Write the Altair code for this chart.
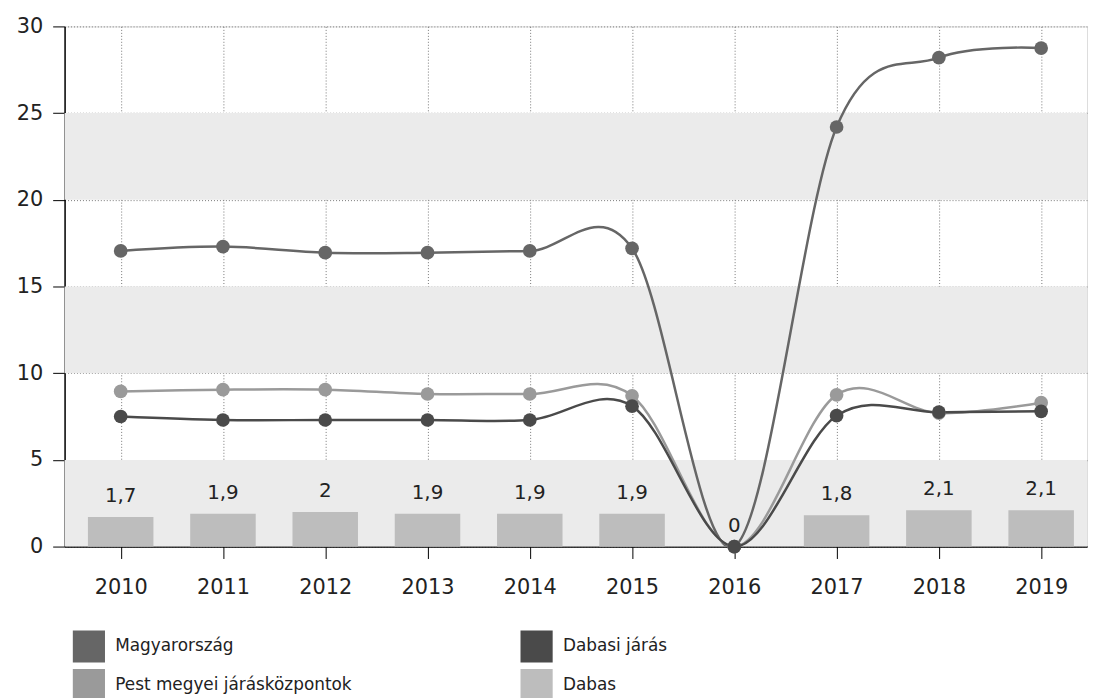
import altair as alt
import pandas as pd

years = [2010, 2011, 2012, 2013, 2014, 2015, 2016, 2017, 2018, 2019]
magyarorszag = [17.05, 17.3, 16.95, 16.95, 17.05, 17.2, 0, 24.2, 28.2, 28.75]
pest_megyei = [8.95, 9.05, 9.05, 8.8, 8.8, 8.7, 0, 8.75, 7.7, 8.3]
dabasi_jaras = [7.5, 7.3, 7.3, 7.3, 7.3, 8.1, 0, 7.55, 7.75, 7.8]
dabas = [1.7, 1.9, 2, 1.9, 1.9, 1.9, 0, 1.8, 2.1, 2.1]

series_names = ["Magyarország", "Pest megyei járásközpontok", "Dabasi járás", "Dabas"]
series_colors = ["#666666", "#9a9a9a", "#4a4a4a", "#bdbdbd"]

band_lo = [0, 10, 20]
band_hi = [5, 15, 25]

line_rows = []
for name, vals in [("Magyarország", magyarorszag), ("Pest megyei járásközpontok", pest_megyei), ("Dabasi járás", dabasi_jaras)]:
    for y, v in zip(years, vals):
        line_rows.append({"year": y, "value": v, "series": name})
lines_df = pd.DataFrame(line_rows)

bars_df = pd.DataFrame({
    "year": years,
    "value": dabas,
    "series": ["Dabas"] * len(years),
    "label": [str(v).replace(".", ",") for v in dabas],
})
bands_df = pd.DataFrame({"lo": band_lo, "hi": band_hi})

FONT = "DejaVu Sans"
xscale = alt.Scale(domain=[2009.5, 2019.4], nice=False, zero=False)
yscale = alt.Scale(domain=[0, 30], nice=False)
cscale = alt.Scale(domain=series_names, range=series_colors)
color = alt.Color(
    "series:N",
    scale=cscale,
    legend=alt.Legend(
        title=None, orient="none", legendX=8, legendY=608, columns=2,
        columnPadding=169, rowPadding=6, symbolType="square", symbolSize=1050,
        symbolStrokeWidth=0, labelFontSize=17, labelFont=FONT, labelOffset=10,
        labelColor="#222", labelLimit=400, values=series_names,
    ),
)

bands = alt.Chart(bands_df).mark_rect(color="#ebebeb").encode(
    y=alt.Y("lo:Q", scale=yscale), y2="hi:Q"
)

xaxis = alt.Axis(values=years, format="d", grid=True, gridDash=[1, 2], gridColor="#777",
                 title=None, labelFontSize=21, labelPadding=18, tickSize=12,
                 domainColor="#000", domainWidth=1.5, tickColor="#000", labelColor="#222", labelFont=FONT)
yaxis = alt.Axis(values=[0, 5, 10, 15, 20, 25, 30], grid=True, gridDash=[1, 2], gridColor="#777",
                 title=None, labelFontSize=21, labelPadding=10, tickSize=12,
                 domainColor="#000", domainWidth=1.5, tickColor="#000", labelColor="#222", labelFont=FONT)

bars = alt.Chart(bars_df).mark_bar(size=66).encode(
    x=alt.X("year:Q", scale=xscale, axis=xaxis),
    y=alt.Y("value:Q", scale=yscale, axis=yaxis),
    color=color,
)
bar_text = alt.Chart(bars_df).mark_text(dy=-21, fontSize=20, font=FONT, color="#222").encode(
    x=alt.X("year:Q", scale=xscale), y=alt.Y("value:Q", scale=yscale), text="label:N"
)
lines = alt.Chart(lines_df).mark_line(interpolate="cardinal", strokeWidth=2.5, clip=True).encode(
    x=alt.X("year:Q", scale=xscale), y=alt.Y("value:Q", scale=yscale),
    color=alt.Color("series:N", scale=cscale, legend=None),
    detail="series:N",
)
points = alt.Chart(lines_df).mark_circle(size=190, opacity=1).encode(
    x=alt.X("year:Q", scale=xscale), y=alt.Y("value:Q", scale=yscale),
    color=alt.Color("series:N", scale=cscale, legend=None),
)

chart = alt.layer(bands, bars, bar_text, lines, points).properties(
    width=1030, height=524,
    autosize=alt.AutoSizeParams(type="none"),
    padding={"left": 57, "top": 16, "right": 3, "bottom": 150},
).configure_view(stroke=None).configure(background="white")

chart.save("out.html", embed_options={"renderer": "svg", "actions": False})
